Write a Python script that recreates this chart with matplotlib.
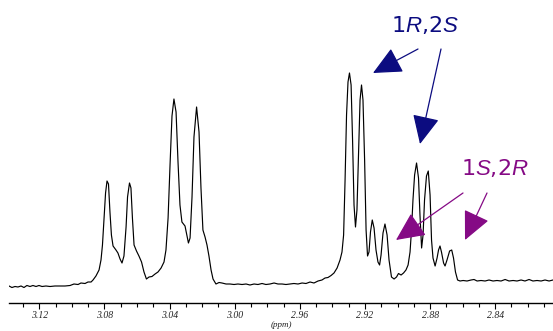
import matplotlib
matplotlib.use("Agg")
import matplotlib.pyplot as plt
from matplotlib.ticker import MultipleLocator, FormatStrFormatter

plt.rcParams['mathtext.fontset'] = 'custom'
plt.rcParams['mathtext.rm'] = 'Liberation Sans'
plt.rcParams['mathtext.it'] = 'Liberation Sans:italic'

# 1H NMR trace (chemical shift in ppm, intensity in arbitrary units)
shift_ppm = [
    3.1386, 3.1368, 3.1349, 3.1331, 3.1312, 3.1294, 3.1276, 3.1257, 3.1239, 3.1220,
    3.1202, 3.1183, 3.1159, 3.1134, 3.1104, 3.1073, 3.1042, 3.1011, 3.0987, 3.0962,
    3.0944, 3.0919, 3.0901, 3.0882, 3.0870, 3.0852, 3.0833, 3.0821, 3.0812, 3.0803,
    3.0793, 3.0784, 3.0775, 3.0766, 3.0757, 3.0747, 3.0729, 3.0717, 3.0704, 3.0692,
    3.0680, 3.0667, 3.0658, 3.0646, 3.0637, 3.0628, 3.0618, 3.0603, 3.0588, 3.0572,
    3.0557, 3.0542, 3.0526, 3.0508, 3.0489, 3.0471, 3.0452, 3.0434, 3.0422, 3.0409,
    3.0397, 3.0385, 3.0373, 3.0360, 3.0348, 3.0336, 3.0324, 3.0305, 3.0293, 3.0284,
    3.0274, 3.0262, 3.0250, 3.0234, 3.0219, 3.0207, 3.0195, 3.0182, 3.0170, 3.0158,
    3.0145, 3.0133, 3.0115, 3.0096, 3.0078, 3.0053, 3.0029, 3.0004, 2.9980, 2.9955,
    2.9930, 2.9906, 2.9881, 2.9857, 2.9832, 2.9808, 2.9783, 2.9758, 2.9734, 2.9709,
    2.9685, 2.9660, 2.9636, 2.9611, 2.9586, 2.9562, 2.9537, 2.9513, 2.9488, 2.9464,
    2.9445, 2.9427, 2.9408, 2.9390, 2.9371, 2.9353, 2.9341, 2.9331, 2.9322, 2.9313,
    2.9304, 2.9295, 2.9285, 2.9276, 2.9267, 2.9258, 2.9249, 2.9239, 2.9230, 2.9221,
    2.9212, 2.9202, 2.9193, 2.9184, 2.9175, 2.9166, 2.9155, 2.9144, 2.9132, 2.9120,
    2.9110, 2.9101, 2.9089, 2.9077, 2.9064, 2.9052, 2.9037, 2.9021, 2.9006, 2.8994,
    2.8978, 2.8963, 2.8948, 2.8935, 2.8923, 2.8914, 2.8905, 2.8895, 2.8883, 2.8871,
    2.8862, 2.8852, 2.8843, 2.8834, 2.8822, 2.8811, 2.8800, 2.8791, 2.8782, 2.8769,
    2.8757, 2.8748, 2.8739, 2.8730, 2.8717, 2.8708, 2.8696, 2.8680, 2.8667, 2.8656,
    2.8644, 2.8631, 2.8616, 2.8597, 2.8573, 2.8548, 2.8530, 2.8511, 2.8487, 2.8462,
    2.8438, 2.8413, 2.8389, 2.8364, 2.8339, 2.8315, 2.8290, 2.8266, 2.8241, 2.8217,
    2.8192, 2.8168, 2.8143, 2.8118, 2.8094, 2.8069, 2.8045,
]
intensity = [
    4.0, 2.5, 3.5, 3.0, 4.0, 2.5, 4.5, 3.5, 4.5, 3.5,
    4.5, 3.5, 4.0, 3.5, 4.0, 4.0, 4.0, 4.5, 6.0, 5.5,
    7.0, 6.5, 8.0, 8.0, 10.0, 14.0, 20.0, 30.0, 45.0, 70.0,
    97.0, 109.0, 106.0, 78.0, 55.0, 44.0, 40.0, 37.0, 31.0, 27.0,
    34.0, 63.0, 93.0, 107.0, 102.0, 72.0, 45.0, 39.0, 34.0, 28.0,
    18.0, 11.0, 13.0, 13.5, 16.0, 18.0, 22.0, 28.0, 40.0, 72.0,
    125.0, 174.0, 191.0, 178.0, 128.0, 85.0, 68.0, 64.0, 54.0, 47.0,
    52.0, 93.0, 153.0, 183.0, 158.0, 102.0, 60.0, 53.0, 45.0, 34.0,
    20.0, 11.0, 6.0, 7.5, 7.0, 6.0, 6.0, 5.5, 6.0, 5.5,
    6.0, 5.0, 6.0, 5.5, 6.5, 5.5, 6.0, 7.0, 6.0, 6.0,
    5.5, 6.0, 6.5, 6.0, 7.0, 6.5, 8.0, 7.0, 9.0, 10.0,
    12.0, 12.5, 14.5, 17.0, 22.0, 30.0, 38.0, 55.0, 110.0, 175.0,
    208.0, 217.0, 205.0, 150.0, 85.0, 63.0, 80.0, 140.0, 190.0, 205.0,
    190.0, 130.0, 60.0, 34.0, 38.0, 58.0, 70.0, 62.0, 40.0, 28.0,
    25.0, 35.0, 57.0, 66.0, 55.0, 30.0, 13.0, 11.0, 13.0, 16.5,
    15.0, 17.0, 20.0, 25.0, 38.0, 60.0, 90.0, 115.0, 127.0, 112.0,
    75.0, 42.0, 55.0, 90.0, 114.0, 119.0, 95.0, 50.0, 32.0, 24.0,
    32.0, 40.0, 44.0, 38.0, 27.0, 24.0, 30.0, 39.0, 40.0, 32.0,
    18.0, 10.0, 9.0, 9.5, 9.0, 10.0, 10.5, 9.0, 9.5, 9.0,
    10.0, 9.0, 9.5, 9.0, 10.5, 9.0, 9.5, 9.0, 10.0, 9.0,
    10.5, 9.0, 9.5, 9.0, 10.0, 9.0, 10.0,
]

tick_values = [3.12, 3.08, 3.04, 3.00, 2.96, 2.92, 2.88, 2.84]

navy = '#0c0c80'
purple = '#850a85'

fig = plt.figure(figsize=(5.53, 3.31), dpi=100)
ax = fig.add_axes([9 / 553, 28.5 / 331, 544 / 553, 302.5 / 331])

ax.plot(shift_ppm, intensity, color='black', lw=0.85, solid_joinstyle='round')

ax.set_xlim(3.1386, 2.8045)
ax.set_ylim(-12.5, 290)

for side in ['top', 'left', 'right']:
    ax.spines[side].set_visible(False)
ax.spines['bottom'].set_linewidth(1.0)
ax.set_yticks([])

ax.set_xticks(tick_values)
ax.xaxis.set_major_formatter(FormatStrFormatter('%.2f'))
ax.xaxis.set_minor_locator(MultipleLocator(0.01))
ax.tick_params(axis='x', which='major', length=4, width=0.8, pad=2,
               labelsize=7, labelcolor='#222222')
ax.tick_params(axis='x', which='minor', length=3, width=0.8)
for lab in ax.get_xticklabels():
    lab.set_fontfamily('Liberation Serif')
    lab.set_fontstyle('italic')
ax.set_xlabel('(ppm)', fontsize=6.5, fontfamily='Liberation Serif',
              fontstyle='italic', labelpad=1, color='#222222')

# stereoisomer labels with arrows
fig.text(425, 306, r'1$\mathit{R}$,2$\mathit{S}$', transform=None,
         fontsize=16, color=navy, ha='center', va='center')
fig.text(495, 163, r'1$\mathit{S}$,2$\mathit{R}$', transform=None,
         fontsize=16, color=purple, ha='center', va='center')

arrows = [
    ((418, 282), (373, 258), navy),
    ((441, 282), (420, 187), navy),
    ((463, 138), (396, 91), purple),
    ((487, 138), (465, 91), purple),
]
for tail, tip, col in arrows:
    ax.annotate('', xy=tip, xycoords='figure pixels', xytext=tail,
                textcoords='figure pixels',
                arrowprops=dict(arrowstyle='-|>,head_length=1.8,head_width=0.85',
                                mutation_scale=10, color=col, lw=0.9,
                                shrinkA=0, shrinkB=0))

fig.savefig('out.png', dpi=100)
